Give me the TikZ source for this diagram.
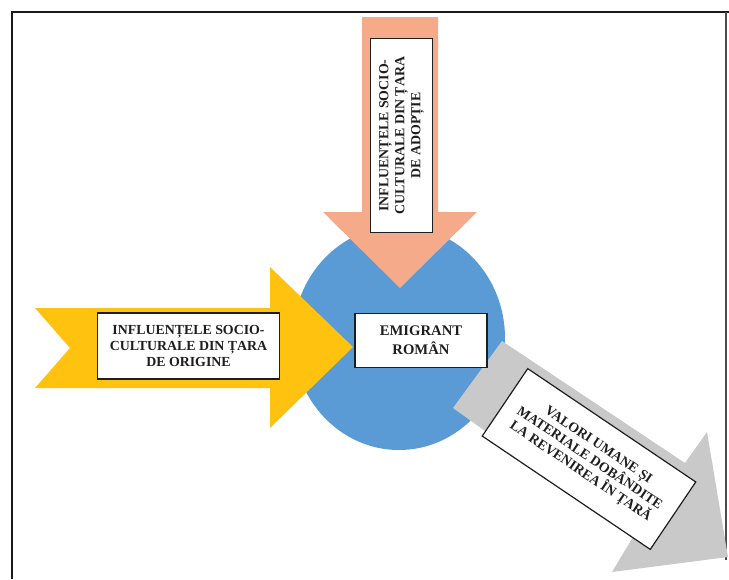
\documentclass[tikz,border=0pt]{standalone}
\usepackage{fontspec}
\setmainfont{Liberation Serif}
\definecolor{cblue}{HTML}{5B9BD5}
\definecolor{csalmon}{HTML}{F5AA8A}
\definecolor{cyellow}{HTML}{FFC20E}
\definecolor{cyellowd}{HTML}{F2BE1A}
\definecolor{cgrey}{HTML}{C9C9C9}
\definecolor{ctext}{HTML}{1E1E1E}
\begin{document}
\begin{tikzpicture}[x=0.75pt,y=-0.75pt,
  txtbox/.style={draw=ctext,line width=0.9pt,fill=white,align=center,
    font=\bfseries\fontsize{10.4}{12}\selectfont,text=ctext,inner sep=1pt},
  arrowshape/.style={draw=none}]
\useasboundingbox (0,0) rectangle (729,579);
\fill[white] (0,0) rectangle (729,579);
% frame
\draw[line width=1.5pt,black!90] (12,579) -- (12,12) -- (729,12);
\draw[line width=0.8pt,black!70] (726,12) -- (726,560);
% central circle
\fill[cblue] (399,338) ellipse [x radius=106, y radius=112];
% yellow arrow
\fill[cyellow] (35,308) -- (270,308) -- (270,267) -- (353,347) -- (270,428)
  -- (270,388) -- (35,388) -- (70,348) -- cycle;
% salmon arrow
\fill[csalmon] (362,17) -- (438,17) -- (438,212) -- (477,212) -- (400,288)
  -- (323,212) -- (362,212) -- cycle;
% grey arrow
\fill[cgrey] (502,341) -- (685,463) -- (707,432) -- (728,557) -- (612,572)
  -- (633,537) -- (453,408) -- cycle;
% text boxes
\node[txtbox,minimum width=137pt,minimum height=49.5pt] (origin) at (188.5,346)
  {INFLUENȚELE SOCIO-\\CULTURALE DIN ȚARA\\DE ORIGINE};
\node[txtbox,minimum width=99pt,minimum height=40pt,
  font=\bfseries\fontsize{11}{14}\selectfont] (emig) at (421,340.5)
  {EMIGRANT\\ROMÂN};
\node[txtbox,rotate=90,minimum width=146pt,minimum height=47pt] (adopt) at (401.5,135.5)
  {INFLUENȚELE SOCIO-\\CULTURALE DIN ȚARA\\DE ADOPȚIE};
\node[txtbox,rotate=-34,minimum width=152pt,minimum height=61pt] (values) at (589,459)
  {VALORI UMANE ȘI\\MATERIALE DOBÂNDITE\\LA REVENIREA ÎN ȚARĂ};
\end{tikzpicture}
\end{document}
